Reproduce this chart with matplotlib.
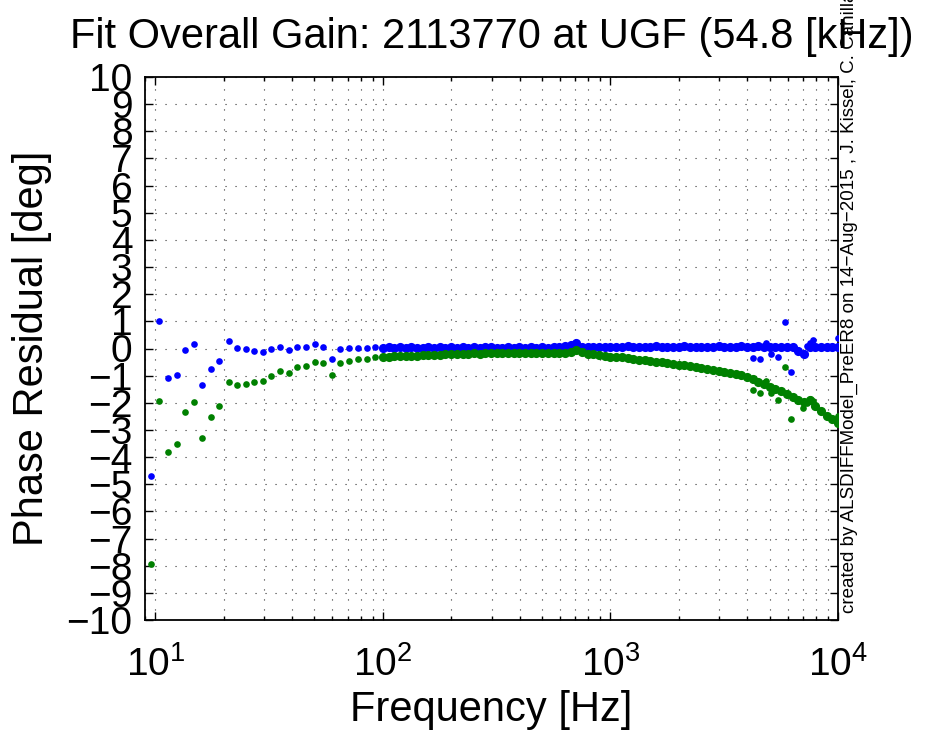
import numpy as np
import matplotlib
matplotlib.use("Agg")
import matplotlib.pyplot as plt
from matplotlib.ticker import LogLocator, NullFormatter

plt.rcParams['font.family'] = ['Liberation Sans', 'DejaVu Sans']
plt.rcParams['mathtext.fontset'] = 'custom'
plt.rcParams['mathtext.rm'] = 'Liberation Sans'
plt.rcParams['mathtext.it'] = 'Liberation Sans'

# ---- data ----
# sparse low-frequency sweep
freq_low = [9.53, 10.4, 11.4, 12.4, 13.55, 14.75, 16.1, 17.6, 19.1, 21.0, 22.9, 24.9,
            27.2, 29.7, 32.3, 35.3, 38.5, 42.0, 45.9, 50.1, 54.6, 59.6, 65.0, 71.1,
            77.6, 84.7, 92.3]
blue_low = [-4.69, 1.03, -1.09, -0.99, -0.04, 0.15, -1.35, -0.74, -0.45, 0.28, 0.03, -0.02,
            -0.09, -0.12, -0.02, 0.07, -0.07, 0.07, 0.07, 0.15, 0.05, -0.40, -0.02, 0.01,
            0.03, 0.01, 0.05]
green_low = [-7.94, -1.94, -3.82, -3.50, -2.34, -1.97, -3.28, -2.52, -2.10, -1.22, -1.36, -1.29,
             -1.25, -1.18, -1.00, -0.83, -0.91, -0.69, -0.63, -0.50, -0.55, -0.97, -0.53, -0.45,
             -0.40, -0.38, -0.31]

# dense sweep 100 Hz - 10 kHz
freq_dense = [100, 106, 112, 119, 126, 133, 141, 150, 158, 168, 178, 188, 200, 211, 224, 237,
              251, 266, 282, 299, 316, 335, 355, 376, 398, 422, 447, 473, 501, 531, 562, 596,
              631, 668, 708, 750, 794, 841, 891, 944, 1000, 1059, 1122, 1189, 1259, 1334, 1413,
              1496, 1585, 1679, 1778, 1884, 1995, 2113, 2239, 2371, 2512, 2661, 2818, 2985,
              3162, 3350, 3548, 3758, 3981, 4217, 4467, 4732, 5012, 5309, 5623, 5957, 6310,
              6683, 7079, 7499, 7943, 8414, 8913, 9441, 10000]
blue_dense = [0.03, 0.05, 0.01, 0.04, 0.02, 0.06, 0.02, 0.03, 0.05, 0.01, 0.04, 0.03, 0.05, 0.02,
              0.04, 0.03, 0.06, 0.02, 0.04, 0.05, 0.03, 0.02, 0.05, 0.03, 0.04, 0.02, 0.05, 0.03,
              0.04, 0.02, 0.05, 0.06, 0.08, 0.12, 0.20, 0.07, 0.04, 0.05, 0.06, 0.04, 0.07, 0.05,
              0.06, 0.08, 0.05, 0.07, 0.06, 0.05, 0.08, 0.06, 0.05, 0.07, 0.06, 0.08, 0.05, 0.06,
              0.07, 0.05, 0.06, 0.08, 0.05, 0.06, 0.07, 0.09, 0.05, 0.06, 0.10, 0.04, 0.07, 0.05,
              0.06, 0.04, 0.05, -0.10, -0.20, 0.06, 0.05, 0.06, 0.04, 0.06, 0.05]
green_dense = [-0.30, -0.30, -0.28, -0.29, -0.27, -0.26, -0.27, -0.25, -0.24, -0.25, -0.23, -0.22,
               -0.21, -0.20, -0.21, -0.19, -0.18, -0.19, -0.17, -0.18, -0.16, -0.17, -0.16, -0.17,
               -0.15, -0.16, -0.15, -0.16, -0.17, -0.16, -0.17, -0.16, -0.15, -0.12, -0.05, -0.13,
               -0.19, -0.22, -0.25, -0.27, -0.30, -0.32, -0.33, -0.36, -0.38, -0.42, -0.44, -0.46,
               -0.48, -0.50, -0.53, -0.56, -0.59, -0.62, -0.65, -0.68, -0.71, -0.74, -0.78, -0.82,
               -0.86, -0.89, -0.94, -0.99, -1.05, -1.12, -1.22, -1.31, -1.40, -1.48, -1.56, -1.66,
               -1.79, -1.88, -1.97, -1.88, -2.10, -2.32, -2.47, -2.60, -2.73]

# sparse high-frequency sweep
freq_high = [4227, 4520, 4830, 5083, 5440, 5820, 6230, 6700, 7010, 7330, 7500, 7760, 10000]
blue_high = [-0.34, -0.38, 0.21, -0.22, -0.32, 0.98, -0.87, -0.10, -0.22, 0.08, 0.21, 0.33, 0.37]
green_high = [-1.53, -1.65, -1.20, -1.65, -1.88, -0.67, -2.61, -1.94, -2.18, -2.02, -1.85, -1.95, -2.49]

title_text = "Fit Overall Gain: 2113770 at UGF (54.8 [kHz])"
side_text = "created by ALSDIFFModel_PreER8 on 14\u2212Aug\u22122015 , J. Kissel, C. Cahillane"
y_ticks = list(range(-10, 11))

BLUE = (0, 0, 1)
GREEN = (0, 0.5, 0)

fig = plt.figure(figsize=(9.3, 7.34), dpi=100)
ax = fig.add_axes([145/930, 1-620/734, (838-145)/930, (620-77)/734])

for f, b, g, ms in [(freq_low, blue_low, green_low, 4.8),
                    (freq_dense, blue_dense, green_dense, 6.6),
                    (freq_high, blue_high, green_high, 4.8)]:
    ax.plot(f, b, 'o', color=BLUE, ms=ms, mec='none', zorder=3)
    ax.plot(f, g, 'o', color=GREEN, ms=ms, mec='none', zorder=3)

ax.set_xscale('log')
ax.set_xlim(9, 10000)
ax.set_ylim(-10, 10)
ax.set_yticks(y_ticks)
ax.xaxis.set_major_locator(LogLocator(base=10, numticks=10))
ax.xaxis.set_minor_locator(LogLocator(base=10, subs=np.arange(2, 10), numticks=100))
ax.xaxis.set_minor_formatter(NullFormatter())

ax.grid(True, which='major', axis='both', linestyle=(0, (1, 8)), linewidth=0.8, color='0.2')
ax.grid(True, which='minor', axis='x', linestyle=(0, (1, 8)), linewidth=0.8, color='0.2')
ax.set_axisbelow(True)

ax.tick_params(which='both', direction='in', top=True, right=True, width=1.0)
ax.tick_params(which='major', length=5.5, labelsize=28)
ax.tick_params(axis='y', which='major', pad=9)
ax.tick_params(axis='x', which='major', pad=19)
ax.tick_params(which='minor', length=3)
for s in ax.spines.values():
    s.set_linewidth(1.3)

ax.set_xlabel("Frequency [Hz]", fontsize=30, labelpad=4)
ax.set_ylabel("Phase Residual [deg]", fontsize=30)
ax.yaxis.set_label_coords(-0.134, 0.5)
ax.set_title(title_text, fontsize=30, pad=21)

fig.text(849/930, 1-613/734, side_text, rotation=90, ha='center', va='bottom', fontsize=13.5)

fig.savefig("out.png", dpi=100)
